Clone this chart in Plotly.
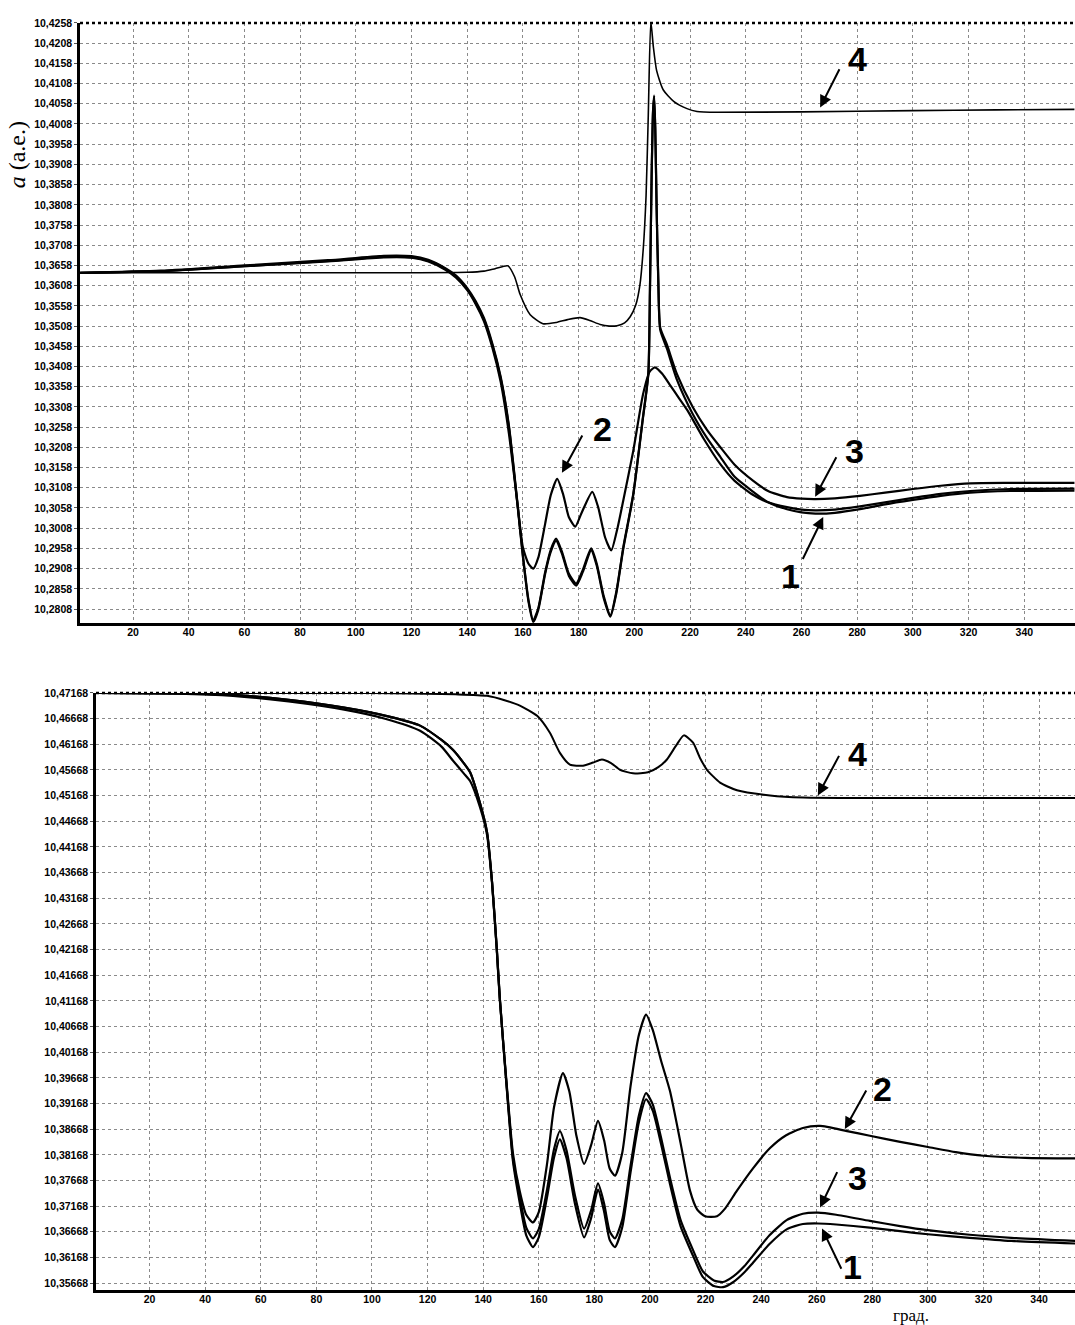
import plotly.graph_objects as go

# ---------------- TOP PANEL DATA ----------------
t4_x = [1, 40, 80, 120, 140, 146, 150, 154.6, 157, 159, 162.6, 167.2, 172, 176, 180.5, 184, 187.7, 191, 193.8,
        196.5, 198.5, 200.5, 202, 203.2, 204.2, 205.0, 205.9, 206.8, 208.0, 210.4, 214.1, 218.9, 222.5, 230,
        260, 300, 330, 358]
t4_y = [10.3640, 10.3640, 10.3640, 10.3640, 10.3641, 10.3644, 10.3650, 10.3657, 10.3630, 10.3586, 10.3536,
        10.3514, 10.3517, 10.3524, 10.3529, 10.3522, 10.3512, 10.3508, 10.3509, 10.3516, 10.3531, 10.3560,
        10.3610, 10.3700, 10.3830, 10.4030, 10.4262, 10.4200, 10.4140, 10.4092, 10.4064, 10.4046, 10.4039,
        10.4037, 10.4038, 10.4041, 10.4043, 10.4044]

t3_x = [1, 30, 60, 90, 110, 120, 126, 132, 136, 140, 143, 146, 149, 152, 155, 158, 160, 162, 163.7, 165.5,
        168, 170, 171.9, 174, 176.5, 179.1, 181.5, 184.5, 186.5, 189, 191.4, 193.5, 196, 199.6, 202.9, 205.0,
        205.6, 206.2, 206.7, 207.1, 207.5, 208.0, 208.6, 209.3, 211.7, 215.3, 221, 226, 230.8, 236, 242.7,
        248, 254.8, 260, 265, 272, 281, 290, 300, 310, 320.6, 335, 358]
t3_y = [10.3640, 10.3645, 10.3658, 10.3671, 10.3682, 10.3681, 10.3672, 10.3652, 10.3633, 10.3602, 10.3570,
        10.3528, 10.3465, 10.3383, 10.3260, 10.3072, 10.2940, 10.2830, 10.2780, 10.2810, 10.2900, 10.2955,
        10.2982, 10.2950, 10.2895, 10.2871, 10.2905, 10.2958, 10.2920, 10.2840, 10.2793, 10.2850, 10.2960,
        10.3093, 10.3273, 10.3390, 10.3600, 10.3880, 10.4040, 10.4078, 10.4000, 10.3800, 10.3620, 10.3504,
        10.3462, 10.3389, 10.3307, 10.3252, 10.3209, 10.3165, 10.3125, 10.3100, 10.3085, 10.3081, 10.3080,
        10.3082, 10.3088, 10.3096, 10.3105, 10.3113, 10.3119, 10.3120, 10.3120]

t1_x = t3_x
t1_y = [10.3640, 10.3644, 10.3656, 10.3669, 10.3679, 10.3678, 10.3670, 10.3650, 10.3630, 10.3599, 10.3566,
        10.3524, 10.3461, 10.3379, 10.3256, 10.3068, 10.2936, 10.2826, 10.2776, 10.2806, 10.2896, 10.2950,
        10.2977, 10.2945, 10.2890, 10.2866, 10.2900, 10.2953, 10.2915, 10.2835, 10.2789, 10.2846, 10.2956,
        10.3090, 10.3270, 10.3388, 10.3598, 10.3878, 10.4036, 10.4074, 10.3996, 10.3796, 10.3615, 10.3498,
        10.3452, 10.3375, 10.3290, 10.3232, 10.3185, 10.3135, 10.3098, 10.3072, 10.3055, 10.3047, 10.3044,
        10.3046, 10.3055, 10.3067, 10.3078, 10.3088, 10.3096, 10.3100, 10.3101]

t2_x = [1, 30, 60, 90, 110, 120, 126, 132, 136, 140, 143, 146, 149, 152, 155, 158, 160, 162, 163.7, 165.5,
        168, 170, 172.3, 174.5, 176.5, 178.8, 181, 184.9, 187, 189.5, 191.7, 194, 196, 199.6, 203.1, 205.5,
        207.4, 210, 213, 216, 219, 225, 230.8, 236, 242.7, 248, 254.8, 260, 265, 272, 281, 290, 300, 310,
        320.6, 335, 358]
t2_y = [10.3640, 10.3644, 10.3656, 10.3668, 10.3678, 10.3677, 10.3668, 10.3648, 10.3628, 10.3597, 10.3563,
        10.3520, 10.3455, 10.3370, 10.3240, 10.3070, 10.2960, 10.2920, 10.2908, 10.2935, 10.3020, 10.3090,
        10.3130, 10.3090, 10.3035, 10.3012, 10.3045, 10.3098, 10.3060, 10.2985, 10.2953, 10.3010, 10.3076,
        10.3199, 10.3339, 10.3395, 10.3406, 10.3390, 10.3360, 10.3330, 10.3300, 10.3228, 10.3167, 10.3125,
        10.3090, 10.3072, 10.3060, 10.3054, 10.3052, 10.3054, 10.3062, 10.3072, 10.3083, 10.3093, 10.3100,
        10.3105, 10.3106]

top_yticks = [10.4258, 10.4208, 10.4158, 10.4108, 10.4058, 10.4008, 10.3958, 10.3908, 10.3858, 10.3808,
              10.3758, 10.3708, 10.3658, 10.3608, 10.3558, 10.3508, 10.3458, 10.3408, 10.3358, 10.3308,
              10.3258, 10.3208, 10.3158, 10.3108, 10.3058, 10.3008, 10.2958, 10.2908, 10.2858, 10.2808]
top_ylabels = ["10,4258", "10,4208", "10,4158", "10,4108", "10,4058", "10,4008", "10,3958", "10,3908",
               "10,3858", "10,3808", "10,3758", "10,3708", "10,3658", "10,3608", "10,3558", "10,3508",
               "10,3458", "10,3408", "10,3358", "10,3308", "10,3258", "10,3208", "10,3158", "10,3108",
               "10,3058", "10,3008", "10,2958", "10,2908", "10,2858", "10,2808"]

# ---------------- BOTTOM PANEL DATA ----------------
b4_x = [1, 60, 100, 130, 141.4, 148, 153.2, 159.4, 164, 167.6, 171.2, 175.9, 179.5, 182.7, 186, 189.2, 193.9,
        199.3, 203, 206.1, 209.5, 212.2, 215.5, 218, 220.5, 225.2, 231.3, 243.2, 255, 280, 320, 353]
b4_y = [10.47168, 10.47168, 10.47165, 10.4714, 10.4711, 10.4702, 10.4692, 10.4672, 10.4639, 10.4600, 10.4577,
        10.4575, 10.4581, 10.4587, 10.4580, 10.4567, 10.4560, 10.4562, 10.4572, 10.4587, 10.4615, 10.4634,
        10.4620, 10.4590, 10.4567, 10.4542, 10.4527, 10.4517, 10.4513, 10.4512, 10.4512, 10.4512]

b3_x = [1, 30, 50, 70, 90, 105, 117.3, 125, 129.1, 133, 135.3, 138.8, 141.4, 143.2, 144.9, 146, 148.6, 150.7,
        153.2, 155.5, 157.9, 160, 163, 165.5, 167.6, 170, 173, 176.3, 178.8, 181.3, 183.5, 185.5, 187.4, 190,
        193, 196, 198.6, 201, 204, 207.2, 211, 215.5, 219, 223, 226.3, 230, 234, 237, 243, 249.3, 255, 260.4,
        267, 279.1, 290, 300, 315, 330, 353]
b3_y = [10.47168, 10.47160, 10.4713, 10.4703, 10.4688, 10.4672, 10.4653, 10.4625, 10.4606, 10.4580, 10.4562,
        10.4503, 10.4445, 10.4348, 10.4218, 10.4121, 10.3941, 10.3811, 10.3733, 10.3675, 10.3654, 10.3672,
        10.3750, 10.3828, 10.3863, 10.3825, 10.3738, 10.3673, 10.3708, 10.3761, 10.3722, 10.3668, 10.3654,
        10.3690, 10.3795, 10.3893, 10.3937, 10.3915, 10.3850, 10.3772, 10.3690, 10.3631, 10.3590, 10.3572,
        10.3569, 10.3580, 10.3600, 10.3620, 10.3660, 10.3690, 10.3702, 10.3704, 10.3700, 10.3688, 10.3678,
        10.3670, 10.3661, 10.3655, 10.3649]

b1_x = b3_x
b1_y = [10.47168, 10.47160, 10.4713, 10.4703, 10.4688, 10.4672, 10.4653, 10.4625, 10.4606, 10.4580, 10.4562,
        10.4503, 10.4445, 10.4348, 10.4218, 10.4121, 10.3938, 10.3805, 10.3722, 10.3660, 10.3637, 10.3656,
        10.3735, 10.3812, 10.3847, 10.3810, 10.3722, 10.3656, 10.3693, 10.3749, 10.3706, 10.3651, 10.3637,
        10.3675, 10.3782, 10.3880, 10.3925, 10.3903, 10.3838, 10.3760, 10.3678, 10.3620, 10.3579, 10.3561,
        10.3559, 10.3569, 10.3588, 10.3606, 10.3643, 10.3672, 10.3682, 10.3683, 10.3681, 10.3675, 10.3668,
        10.3662, 10.3655, 10.3649, 10.3644]

b2_x = [1, 30, 50, 70, 90, 105, 117.3, 125, 129.1, 133, 135.3, 138.8, 141.4, 143.2, 144.9, 146, 148.6, 150.7,
        153.2, 155.5, 157.9, 160, 163, 165.5, 168.7, 171, 173.5, 176.3, 178.8, 181.3, 183.5, 185.5, 187.4, 190,
        193, 196, 198.6, 201, 204, 207.2, 211, 214.4, 217, 219.8, 224.1, 227, 231.3, 237, 243.2, 249, 255,
        261.2, 270.9, 279.1, 290, 300, 310, 320, 335, 353]
b2_y = [10.47168, 10.47155, 10.4711, 10.4700, 10.4684, 10.4666, 10.4643, 10.4612, 10.4585, 10.4560, 10.4545,
        10.4495, 10.4440, 10.4345, 10.4215, 10.4118, 10.3945, 10.3820, 10.3745, 10.3700, 10.3685, 10.3705,
        10.3800, 10.3910, 10.3976, 10.3940, 10.3855, 10.3799, 10.3835, 10.3883, 10.3845, 10.3790, 10.3776,
        10.3820, 10.3950, 10.4050, 10.4090, 10.4060, 10.4000, 10.3941, 10.3840, 10.3747, 10.3710, 10.3697,
        10.3697, 10.3712, 10.3747, 10.3790, 10.3830, 10.3855, 10.3869, 10.3873, 10.3863, 10.3854, 10.3842,
        10.3832, 10.3822, 10.3815, 10.3811, 10.3810]

bot_yticks = [10.47168, 10.46668, 10.46168, 10.45668, 10.45168, 10.44668, 10.44168, 10.43668, 10.43168,
              10.42668, 10.42168, 10.41668, 10.41168, 10.40668, 10.40168, 10.39668, 10.39168, 10.38668,
              10.38168, 10.37668, 10.37168, 10.36668, 10.36168, 10.35668]
bot_ylabels = ["10,47168", "10,46668", "10,46168", "10,45668", "10,45168", "10,44668", "10,44168", "10,43668",
               "10,43168", "10,42668", "10,42168", "10,41668", "10,41168", "10,40668", "10,40168", "10,39668",
               "10,39168", "10,38668", "10,38168", "10,37668", "10,37168", "10,36668", "10,36168", "10,35668"]

x_ticks = [20, 40, 60, 80, 100, 120, 140, 160, 180, 200, 220, 240, 260, 280, 300, 320, 340]
x_labels = ["20", "40", "60", "80", "100", "120", "140", "160", "180", "200", "220", "240", "260", "280",
            "300", "320", "340"]

W, H = 1075, 1325


def fy(py):
    return 1 - py / H


fig = go.Figure()

line_spec = dict(color="black", shape="spline", smoothing=0.6)
for xs, ys, wd in [(t4_x, t4_y, 1.6), (t2_x, t2_y, 2.2), (t1_x, t1_y, 2.2), (t3_x, t3_y, 2.2)]:
    fig.add_trace(go.Scatter(x=xs, y=ys, mode="lines", line=dict(width=wd, **line_spec),
                             xaxis="x", yaxis="y", showlegend=False, hoverinfo="skip"))
for xs, ys, wd in [(b4_x, b4_y, 2.0), (b2_x, b2_y, 2.2), (b1_x, b1_y, 2.2), (b3_x, b3_y, 2.2)]:
    fig.add_trace(go.Scatter(x=xs, y=ys, mode="lines", line=dict(width=wd, **line_spec),
                             xaxis="x2", yaxis="y2", showlegend=False, hoverinfo="skip"))

tick_font = dict(family="Liberation Sans", size=10.5, color="black", weight="bold")
common = dict(showgrid=True, gridcolor="#8a8a8a", gridwidth=1, griddash="dot", zeroline=False,
              showline=True, linecolor="black", linewidth=2.5, tickcolor="#555", tickfont=tick_font)
xgrid = dict(ticks="", ticklabelstandoff=-3, **common)
ygrid = dict(ticks="outside", ticklen=3, **common)

fig.update_layout(
    width=W, height=H, margin=dict(l=0, r=0, t=0, b=0),
    paper_bgcolor="white", plot_bgcolor="white",
    xaxis=dict(domain=[80 / W, 1], range=[0.97, 358.2], tickvals=x_ticks, ticktext=x_labels,
               anchor="y", **xgrid),
    yaxis=dict(domain=[fy(620), fy(17)], range=[10.2773, 10.4258], tickvals=top_yticks,
               ticktext=top_ylabels, anchor="x", **ygrid),
    xaxis2=dict(domain=[96 / W, 1], range=[0.72, 352.9], tickvals=x_ticks, ticktext=x_labels,
                anchor="y2", **xgrid),
    yaxis2=dict(domain=[fy(1290), fy(690)], range=[10.35531, 10.47168], tickvals=bot_yticks,
                ticktext=bot_ylabels, anchor="x2", **ygrid),
)

# dotted top borders
for xr, yr in [("x domain", "y domain"), ("x2 domain", "y2 domain")]:
    fig.add_shape(type="line", xref=xr, yref=yr, x0=0, x1=1, y0=1, y1=1,
                  line=dict(color="black", width=2.5, dash="dot"))

# curve labels and arrows
label_font = dict(family="Liberation Sans", size=34, color="black", weight="bold")
labels = [
    ("x", "y", "4", 280.0, 10.4169, 273.9, 10.4147, 266.7, 10.4049),
    ("x", "y", "2", 188.4, 10.3253, 181.6, 10.3241, 174.0, 10.3145),
    ("x", "y", "3", 279.2, 10.3199, 272.8, 10.3187, 264.9, 10.3086),
    ("x", "y", "1", 256.0, 10.2889, 260.2, 10.2928, 267.8, 10.3036),
    ("x2", "y2", "4", 274.5, 10.4597, 268.3, 10.4597, 260.4, 10.4517),
    ("x2", "y2", "2", 283.5, 10.3945, 278.1, 10.3945, 270.1, 10.3867),
    ("x2", "y2", "3", 274.8, 10.3772, 267.6, 10.3786, 261.2, 10.3714),
    ("x2", "y2", "1", 273.0, 10.3598, 269.1, 10.3592, 261.9, 10.3673),
]
for xr, yr, txt, lx, ly, tx, ty, hx, hy in labels:
    fig.add_annotation(x=lx, y=ly, xref=xr, yref=yr, text=txt, showarrow=False, font=label_font,
                       xanchor="center", yanchor="middle")
    fig.add_annotation(x=hx, y=hy, xref=xr, yref=yr, ax=tx, ay=ty, axref=xr, ayref=yr, text="",
                       showarrow=True, arrowhead=2, arrowsize=1.2, arrowwidth=2, arrowcolor="black")

# axis titles
fig.add_annotation(x=17 / W, y=fy(150), xref="paper", yref="paper", text="<i>a</i> (а.е.)",
                   textangle=-90, showarrow=False, xanchor="center", yanchor="middle",
                   font=dict(family="Liberation Serif", size=24, color="black"))
fig.add_annotation(x=911 / W, y=fy(1315), xref="paper", yref="paper", text="град.", showarrow=False,
                   xanchor="center", yanchor="middle",
                   font=dict(family="Liberation Serif", size=17, color="black"))

fig.write_html("out.html", config={"displayModeBar": False},
               post_script="document.body.style.margin='0';")
